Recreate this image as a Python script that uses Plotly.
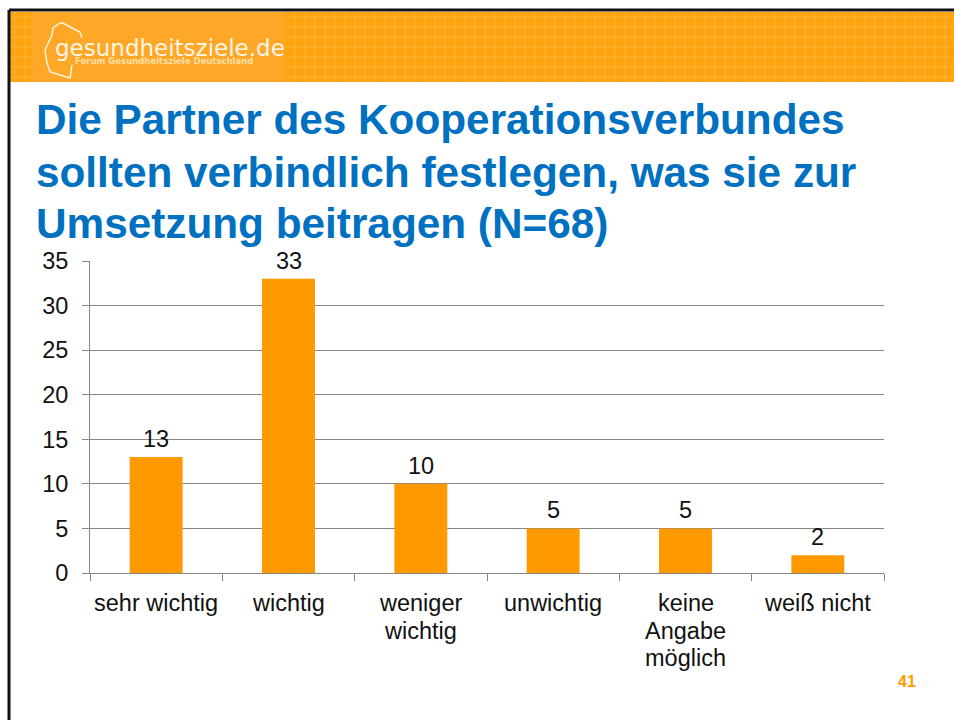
import plotly.graph_objects as go

categories = ["sehr wichtig", "wichtig", "weniger<br>wichtig", "unwichtig", "keine<br>Angabe<br>möglich", "weiß nicht"]
values = [13, 33, 10, 5, 5, 2]
y_ticks = [0, 5, 10, 15, 20, 25, 30, 35]
title_lines = ["Die Partner des Kooperationsverbundes",
               "sollten verbindlich festlegen, was sie zur",
               "Umsetzung beitragen (N=68)"]
W, H = 954, 720
L, R, T, B = 90, 884, 261, 573
ORANGE = "#FF9900"
BLUE = "#0070C0"
FONT = "Liberation Sans, Arial, sans-serif"
TEXT_SIZE = 23.5

def px(x): return x / W
def py(y): return 1 - y / H

def rect(x0, y0, x1, y1, color):
    return dict(type="rect", xref="paper", yref="paper", x0=px(x0), x1=px(x1),
                y0=py(y1), y1=py(y0), fillcolor=color, line_width=0, layer="below")

def line(x0, y0, x1, y1, color, w=1):
    return dict(type="line", xref="paper", yref="paper", x0=px(x0), x1=px(x1),
                y0=py(y0), y1=py(y1), line=dict(color=color, width=w), layer="below")

shapes = [rect(10, 12, W, 82, "#FFA40F")]
for gx in range(15, W, 10):
    if not 32 <= gx <= 285:
        shapes.append(line(gx, 12, gx, 82, "#FFB43C", 1))
for gy in range(17, 82, 10):
    shapes.append(line(10, gy, 32, gy, "#FFB43C", 1))
    shapes.append(line(285, gy, W, gy, "#FFB43C", 1))
shapes.append(rect(32, 12, 285, 82, "#FFA726"))
shapes.append(line(9, 10, W, 10, "#111111", 3))
shapes.append(line(9, 10, 9, H, "#111111", 3))

outline = [(60, 23), (53, 28), (52, 35), (45, 50), (47, 63), (50, 72), (70, 78), (72, 65)]
path = "M " + " L ".join(f"{px(a):.5f} {py(b):.5f}" for a, b in outline)
shapes.append(dict(type="path", xref="paper", yref="paper", path=path,
                   line=dict(color="#FFF3DC", width=1.5)))
outline2 = [(60, 23), (63, 23), (72, 28), (80, 32), (82, 38)]
path2 = "M " + " L ".join(f"{px(a):.5f} {py(b):.5f}" for a, b in outline2)
shapes.append(dict(type="path", xref="paper", yref="paper", path=path2,
                   line=dict(color="#FFF3DC", width=1.5)))

annotations = [
    dict(text="gesundheitsziele.de", x=px(53), y=py(48), xref="paper", yref="paper", showarrow=False,
         xanchor="left", yanchor="middle", font=dict(family="DejaVu Sans", size=23, color="#FFF6E6")),
    dict(text="Forum Gesundheitsziele Deutschland", x=px(73), y=py(61), xref="paper", yref="paper",
         showarrow=False, xanchor="left", yanchor="middle",
         font=dict(family="DejaVu Sans", size=8.5, color="#FFE0A8", weight="bold")),
    dict(text="41", x=px(907), y=py(681), xref="paper", yref="paper", showarrow=False,
         xanchor="center", yanchor="middle", font=dict(family=FONT, size=16, color=ORANGE, weight="bold")),
]
title_rows = [120, 172, 223]
for t, row in zip(title_lines, title_rows):
    annotations.append(dict(text=t, x=px(34), y=py(row), xref="paper", yref="paper", showarrow=False,
                            xanchor="left", yanchor="middle",
                            font=dict(family=FONT, size=42.3, color=BLUE, weight="bold")))

# Category labels: one text per line, for the reference's tighter line spacing
label_rows = [603, 631, 658]
for cat in categories:
    for row, part in enumerate(cat.split("<br>")):
        annotations.append(dict(text=part, x=cat, xref="x", y=py(label_rows[row]), yref="paper", showarrow=False,
                                xanchor="center", yanchor="middle",
                                font=dict(family=FONT, size=TEXT_SIZE, color="#111111")))

# Value labels sit a fixed distance above each bar
for cat, val in zip(categories, values):
    annotations.append(dict(text=str(val), x=cat, y=val, xref="x", yref="y", showarrow=False, yshift=18,
                            xanchor="center", yanchor="middle",
                            font=dict(family=FONT, size=TEXT_SIZE, color="#111111")))

fig = go.Figure(go.Bar(
    x=categories, y=values, marker=dict(color=ORANGE, line_width=0), width=0.4, hoverinfo="skip"))

fig.update_layout(
    width=W, height=H, autosize=False, paper_bgcolor="white", plot_bgcolor="white", showlegend=False,
    margin=dict(l=0, r=0, t=0, b=0), shapes=shapes, annotations=annotations,
    font=dict(family=FONT, size=TEXT_SIZE, color="#111111"),
    xaxis=dict(domain=[px(L), px(R)], type="category", ticks="outside", ticklen=7, tickcolor="#868686",
               tickson="boundaries", linecolor="#868686", linewidth=1, showline=True, showgrid=False,
               showticklabels=False, automargin=False),
    yaxis=dict(domain=[py(B), py(T)], range=[0, 35], tickvals=y_ticks, ticks="outside", ticklen=7,
               tickcolor="#868686", linecolor="#868686", linewidth=1, showline=True, gridcolor="#868686",
               gridwidth=1, zeroline=False, ticklabelstandoff=9,
               tickfont=dict(family=FONT, size=TEXT_SIZE, color="#111111"), automargin=False),
)
fig.write_html("out.html", post_script="document.body.style.margin='0';", config=dict(displayModeBar=False))
